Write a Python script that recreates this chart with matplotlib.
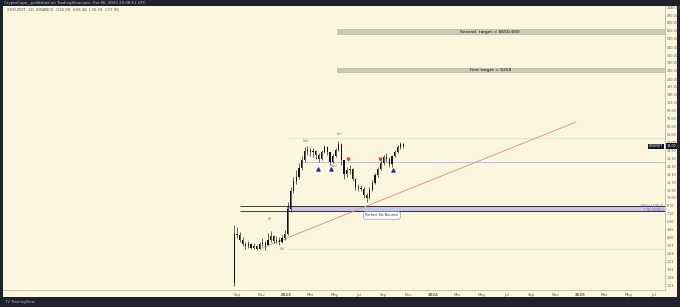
import matplotlib
matplotlib.use('Agg')
import matplotlib.pyplot as plt
import matplotlib.dates as mdates
from matplotlib.patches import Rectangle
import pandas as pd

# weekly candles (log price scale)
first_week = '2022-08-22'
opens = [1.3, 4.4, 4.3, 3.8, 3.4, 3.2, 3.4, 3.1, 3.2, 3.0, 3.4, 3.5, 3.3, 3.8, 4.1, 3.7,
         3.8, 3.6, 3.9, 4.4, 8.0, 12.5, 16, 18, 22, 27, 34, 35, 33, 34, 31, 28,
         33, 37, 33, 26, 30, 35, 40, 27, 19, 21, 21.5, 17, 14, 13.5, 13.2, 11.5,
         10.6, 13, 15.5, 18.5, 21.5, 25, 29, 28, 24.5, 30, 33, 37, 40]
highs = [5.5, 5.2, 4.6, 4.0, 3.6, 3.7, 3.5, 3.5, 3.3, 3.6, 3.9, 3.7, 4.5, 4.7, 4.2, 4.1,
         4.0, 4.2, 4.8, 9.5, 14, 18, 21, 25, 30, 37, 38.5, 36, 36.5, 35, 32, 35,
         39, 38, 33, 31.5, 36.5, 43, 41, 27, 23, 24, 22, 17.5, 15, 14.5, 14, 12,
         14, 16.5, 19.5, 23, 27, 31, 32, 29, 31, 34.5, 39, 42, 41]
lows = [1.2, 3.9, 3.6, 3.2, 3.0, 3.1, 3.0, 3.0, 2.9, 3.0, 3.2, 2.9, 3.3, 3.6, 3.5, 3.5,
        3.3, 3.5, 3.8, 4.3, 7.5, 12, 15, 17, 21, 26, 31, 30, 29, 28, 25.5, 27,
        32, 31, 24, 25, 29, 34, 24, 17, 18, 19, 16, 13, 12.5, 12.5, 10.5, 9.6,
        10.3, 12.5, 15, 18, 21, 24, 26, 22.5, 23, 29, 32, 35.5, 36.5]
closes = [4.4, 4.3, 3.8, 3.4, 3.2, 3.4, 3.1, 3.2, 3.0, 3.4, 3.5, 3.3, 3.8, 4.1, 3.7, 3.8,
          3.6, 3.9, 4.4, 8.0, 12.5, 16, 18, 22, 27, 34, 35, 33, 34, 31, 28, 33,
          37, 33, 26, 30, 35, 40, 27, 19, 21, 21.5, 17, 14, 13.5, 13.2, 11.5, 10.6,
          13, 15.5, 18.5, 21.5, 25, 29, 28, 24.5, 30, 33, 37, 40, 38]

tick_dates = ['2022-09-01', '2022-11-01', '2023-01-01', '2023-03-01', '2023-05-01', '2023-07-01',
              '2023-09-01', '2023-11-01', '2024-01-01', '2024-03-01', '2024-05-01', '2024-07-01',
              '2024-09-01', '2024-11-01', '2025-01-01', '2025-03-01', '2025-05-01', '2025-07-01']
tick_labels = ['Sep', 'Nov', '2023', 'Mar', 'May', 'Jul', 'Sep', 'Nov', '2024',
               'Mar', 'May', 'Jul', 'Sep', 'Nov', '2025', 'Mar', 'May', 'Jul']
price_ticks = [1180, 970, 800, 655, 540, 440, 360, 300, 245, 200, 165, 136, 112, 92, 75, 62,
               51, 42, 34.5, 28.3, 23.3, 19.1, 15.7, 12.9, 10.6, 8.7, 7.2, 5.9, 4.85, 4.0,
               3.27, 2.69, 2.21, 1.82, 1.49, 1.23]

# drawings
targets = [(608, 687, 'Second  target = $650-660'), (238, 262, 'First target = $250')]
target_start = '2023-05-08'
target_text_date = '2024-05-22'
band = (7.6, 8.6)
band_start = '2023-01-03'
band_lines = [8.75, 7.75]
band_lines_start = '2022-09-09'
trend_dates = ['2022-11-02', '2024-12-21']
trend_prices = [3.08, 69.2]
wave_names = ['(i)', '(ii)', '(iii)', '(iv)', '(v)']
wave_dates = ['2022-11-22', '2022-12-22', '2023-02-20', '2023-04-30', '2023-05-13']
wave_prices = [6.3, 3.0, 43.5, 23.4, 52]
buy_dates = ['2023-03-21', '2023-04-23', '2023-09-24']
buy_prices = [21.7, 21.7, 21.2]
sell_dates = ['2023-06-04', '2023-08-22']
sell_prices = [27.5, 27.5]
support_line = 25.8
support_start = '2023-02-05'
faint_lines = [46.6, 3.0]

jan1 = mdates.date2num(pd.Timestamp('2023-01-01'))
x_left, x_right = jan1 - 703, jan1 + 941

cream = '#fcf6df'
fig = plt.figure(figsize=(6.8, 3.07), dpi=100, facecolor='#1e222d')
bg = fig.add_axes([3 / 680, 10 / 307, 674 / 680, 291 / 307])
bg.set_facecolor(cream)
bg.set_xticks([]); bg.set_yticks([])
for s in bg.spines.values():
    s.set_visible(False)

ax = fig.add_axes([3 / 680, 17 / 307, 662 / 680, 284 / 307])
ax.set_facecolor(cream)
ax.set_yscale('log')
ax.set_ylim(1.093, 1213)
ax.set_xlim(x_left, x_right)
for side in ['top', 'left']:
    ax.spines[side].set_visible(False)
for side in ['right', 'bottom']:
    ax.spines[side].set_color('#bdb9a8')
    ax.spines[side].set_linewidth(0.6)

# candles
weeks = mdates.date2num(pd.date_range(first_week, periods=len(closes), freq='7D')) + 3
ax.vlines(weeks, lows, highs, color='#111111', lw=0.45, zorder=4)
body_lo = [min(o, c) for o, c in zip(opens, closes)]
body_h = [abs(c - o) for o, c in zip(opens, closes)]
ax.bar(weeks, body_h, bottom=body_lo, width=3.0, color='#111111', zorder=4)

# target zones
t0 = mdates.date2num(pd.Timestamp(target_start))
for lo, hi, label in targets:
    ax.add_patch(Rectangle((t0, lo), x_right - t0, hi - lo, fc='#ccc8b8', ec='#aeaa98', lw=0.4, zorder=2))
    ax.text(mdates.date2num(pd.Timestamp(target_text_date)), (lo * hi) ** 0.5, label,
            fontsize=3.2, ha='center', va='center', color='#111111', zorder=3)

# purple zone and black lines
b0 = mdates.date2num(pd.Timestamp(band_start))
ax.add_patch(Rectangle((b0, band[0]), x_right - b0, band[1] - band[0], fc='#cbc4e8', ec='#6c5fb0', lw=0.5, zorder=2))
l0 = mdates.date2num(pd.Timestamp(band_lines_start))
ax.hlines(band_lines, l0, x_right, color='#222222', lw=0.6, zorder=3)
ax.text(x_right - 3, 8.3, '8.64 (+1.22%) 71\n7.75 (-9.23%) 2', fontsize=1.8, color='#5e51a8',
        ha='right', va='center', linespacing=0.9, zorder=3)

# other horizontal levels
s0 = mdates.date2num(pd.Timestamp(support_start))
ax.hlines(support_line, s0, x_right, color='#b8bccb', lw=0.6, zorder=2)
ax.hlines(faint_lines, mdates.date2num(pd.Timestamp('2023-01-05')), x_right, color='#e6ddc4', lw=0.5, zorder=1)

# trend line
ax.plot(mdates.date2num(pd.to_datetime(trend_dates)), trend_prices, color='#e08b7e', lw=0.6, zorder=3)

# wave labels and markers
for name, d, p in zip(wave_names, wave_dates, wave_prices):
    ax.text(mdates.date2num(pd.Timestamp(d)), p, name, fontsize=3.0, color='#3f9a44',
            ha='center', va='center', zorder=5)
ax.scatter(mdates.date2num(pd.to_datetime(buy_dates)), buy_prices, marker='^', s=5, color='#2e3192', zorder=5)
ax.scatter(mdates.date2num(pd.to_datetime(sell_dates)), sell_prices, marker='v', s=3.5, color='#e53935', zorder=5)

ax.text(mdates.date2num(pd.Timestamp('2023-08-27')), 6.9, 'Perfect fib Bounce', fontsize=2.6,
        ha='center', va='center', color='#333333', zorder=5,
        bbox=dict(boxstyle='round,pad=0.5', fc='white', ec='#7282a6', lw=0.4))

# axes ticks
ax.yaxis.tick_right()
ax.yaxis.set_minor_locator(matplotlib.ticker.NullLocator())
ax.set_yticks(price_ticks)
ax.set_yticklabels([f'{p:.2f}' for p in price_ticks], fontsize=2.4, color='#5d606b')
ax.tick_params(axis='y', length=0, pad=1.5)
ax.set_xticks(mdates.date2num(pd.to_datetime(tick_dates)))
ax.set_xticklabels(tick_labels, fontsize=2.8, color='#5d606b')
for lbl in ax.get_xticklabels():
    if lbl.get_text().isdigit():
        lbl.set_fontweight('bold')
ax.tick_params(axis='x', length=0, pad=2)

# last price tag
last = closes[-1]
ax.text(1.003, last, f'{last:.2f}', transform=ax.get_yaxis_transform(), fontsize=2.4, color='white',
        va='center', ha='left', bbox=dict(fc='#131722', ec='none', pad=0.6), clip_on=False, zorder=6)
ax.text(0.997, last, 'XXXUSDT', transform=ax.get_yaxis_transform(), fontsize=2.2, color='white',
        va='center', ha='right', bbox=dict(fc='#131722', ec='none', pad=0.5), zorder=6)

fig.text(0.006, 1 - 2.8 / 307, 'CryptoCapo_ published on TradingView.com, Oct 06, 2023 20:08:51 UTC',
         fontsize=2.8, color='#c8cad3', va='center')
fig.text(0.01, 1 - 10 / 307, 'XXXUSDT, 1D, BINANCE  O36.90  H38.46  L36.50  C37.96',
         fontsize=2.8, color='#55585f', va='center')
fig.text(0.008, 1 - 302 / 307, 'TV TradingView', fontsize=2.8, color='#b2b5be', va='center')

fig.savefig('out.png', dpi=100, facecolor=fig.get_facecolor())
